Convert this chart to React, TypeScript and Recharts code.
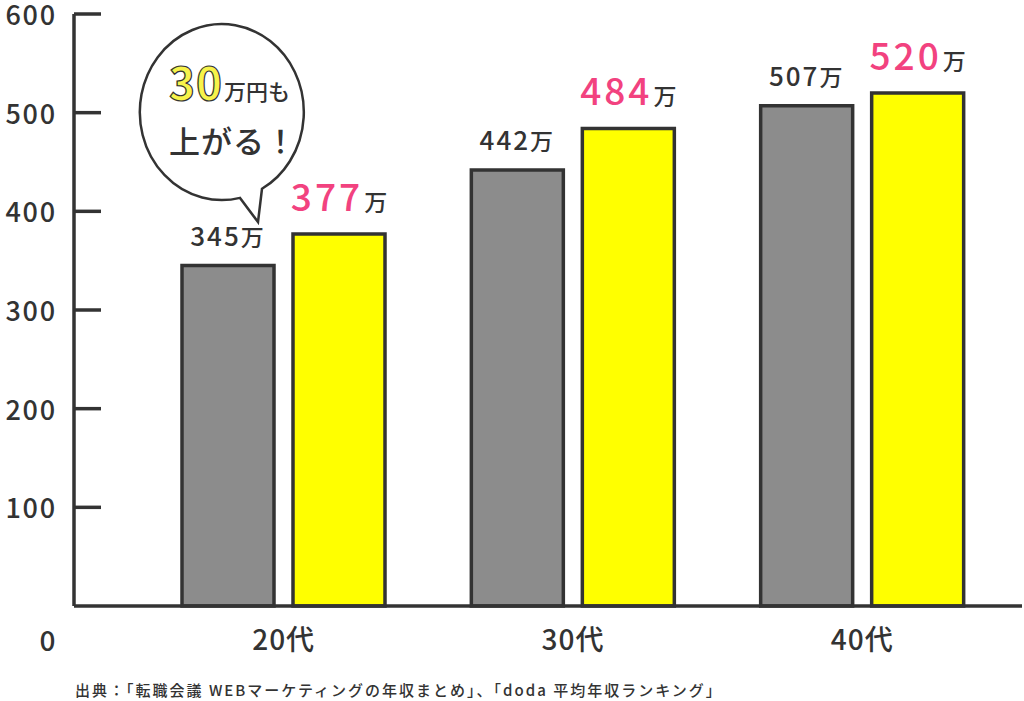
import { BarChart, Bar, XAxis, YAxis, LabelList, Customized } from "recharts";

const ages = ["20代", "30代", "40代"];
const before = [345, 442, 507];
const after = [377, 484, 520];
const yTicks = [0, 100, 200, 300, 400, 500, 600];
const source = "出典：「転職会議 WEBマーケティングの年収まとめ」、「doda 平均年収ランキング」";

const data = ages.map((age, i) => ({ age, before: before[i], after: after[i] }));

const ink = "#333333";
const font = '"Noto Sans CJK JP", "Noto Sans", sans-serif';

const YTick = (props: any) => {
  const { y, payload } = props;
  if (payload.value === 0) {
    return (
      <text x={48} y={y + 45} textAnchor="middle" fontSize={28} fontWeight={500} fill={ink} fontFamily={font} letterSpacing={1}>
        0
      </text>
    );
  }
  return (
    <g>
      <line x1={74} x2={101} y1={y} y2={y} stroke={ink} strokeWidth={3.5} />
      <text x={57} y={y + 11} textAnchor="end" fontSize={27} fontWeight={500} fill={ink} fontFamily={font} letterSpacing={1.8}>
        {payload.value}
      </text>
    </g>
  );
};

const XTick = (props: any) => {
  const { x, payload } = props;
  return (
    <text x={x} y={650} textAnchor="middle" fontSize={28} fontWeight={500} fill={ink} fontFamily={font} letterSpacing={1}>
      {payload.value}
    </text>
  );
};

const GrayLabel = (props: any) => {
  const { x, y, width, value } = props;
  return (
    <text x={x + width / 2} y={y - 20} textAnchor="middle" fill={ink} fontFamily={font} fontWeight={500} fontSize={26} letterSpacing={2}>
      {value}
      <tspan fontSize={23}>万</tspan>
    </text>
  );
};

const PinkLabel = (props: any) => {
  const { x, y, width, value } = props;
  return (
    <text x={x + width / 2} y={y - 23} textAnchor="middle" fill={ink} fontFamily={font} fontWeight={500}>
      <tspan fontSize={37} fill="#f2427f" letterSpacing={3}>{value}</tspan>
      <tspan fontSize={23} dx={1}>万</tspan>
    </text>
  );
};

// 吹き出し（注釈）
const Bubble = () => (
  <g fontFamily={font}>
    <path
      d="M 240 197.9 A 82 88 0 1 1 262 188.8 L 258 222 Z"
      fill="#ffffff"
      stroke={ink}
      strokeWidth={2.5}
      strokeLinejoin="miter"
    />
    <text x={169} y={100} fill={ink}>
      <tspan fontSize={44} fontWeight={700} fill="#f7f34a" stroke={ink} strokeWidth={1.2} letterSpacing={1}>
        30
      </tspan>
      <tspan fontSize={22} fontWeight={500} dx={1}>万円も</tspan>
    </text>
    <text x={169} y={153} fill={ink} fontSize={31} fontWeight={500} letterSpacing={1}>
      上がる！
    </text>
  </g>
);

export default function App() {
  return (
    <div style={{ position: "absolute", left: 0, top: 0, width: 1024, height: 701, background: "#fff" }}>
      <BarChart
        width={1024}
        height={701}
        data={data}
        margin={{ top: 14, right: 2, bottom: 65, left: 0 }}
        barSize={92}
        barGap={19}
      >
        <XAxis
          dataKey="age"
          height={30}
          axisLine={{ stroke: ink, strokeWidth: 3.5 }}
          tickLine={false}
          tick={<XTick />}
          padding={{ left: 65, right: 15 }}
        />
        <YAxis
          width={74}
          domain={[0, 600]}
          ticks={yTicks}
          interval={0}
          axisLine={{ stroke: ink, strokeWidth: 3.5 }}
          tickLine={false}
          tick={<YTick />}
        />
        <Bar dataKey="before" fill="#8c8c8c" stroke={ink} strokeWidth={3.5} isAnimationActive={false}>
          <LabelList dataKey="before" content={<GrayLabel />} />
        </Bar>
        <Bar dataKey="after" fill="#ffff00" stroke={ink} strokeWidth={3.5} isAnimationActive={false}>
          <LabelList dataKey="after" content={<PinkLabel />} />
        </Bar>
        <Customized component={<Bubble />} />
      </BarChart>
      <div
        style={{
          position: "absolute",
          left: 75,
          top: 679,
          fontSize: 15,
          color: ink,
          fontFamily: font,
          fontWeight: 500,
          whiteSpace: "nowrap",
          letterSpacing: 2,
        }}
      >
        {source}
      </div>
    </div>
  );
}
